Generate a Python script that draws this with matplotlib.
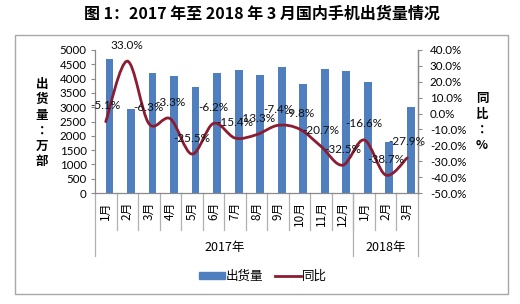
import numpy as np
import matplotlib
matplotlib.use("Agg")
import matplotlib.pyplot as plt
from matplotlib.path import Path
from matplotlib.patches import PathPatch, Rectangle, Patch
from matplotlib.lines import Line2D
import matplotlib.transforms as mtransforms
from matplotlib.ticker import FuncFormatter

plt.rcParams['font.family'] = ['Lato', 'Noto Sans CJK SC', 'DejaVu Sans']

# ---------------- data ----------------
months = ['1月', '2月', '3月', '4月', '5月', '6月', '7月', '8月', '9月', '10月',
          '11月', '12月', '1月', '2月', '3月']
years = ['2017年', '2018年']
year_spans = [(0, 11), (12, 14)]
shipments = [4700, 2950, 4200, 4100, 3720, 4200, 4300, 4130, 4420, 3810,
             4330, 4270, 3890, 1790, 3020]
yoy = [-5.1, 33.0, -6.3, -3.3, -25.5, -6.2, -15.4, -13.3, -7.4, -9.8,
       -20.7, -32.5, -16.6, -38.7, -27.9]
left_ticks = list(range(0, 5001, 500))
right_ticks = list(range(-50, 41, 10))

title = '图 1：2017 年至 2018 年 3 月国内手机出货量情况'
left_label = '出\n货\n量\n：\n万\n部'
right_label = '同\n比\n：\n%'
legend_labels = ['出货量', '同比']

bar_color = '#4F7FBF'
line_color = '#8C1C30'
spine_color = '#8A8A8A'
cjk = ['Noto Sans CJK SC', 'DejaVu Sans']
cjk_tc = ['Noto Sans CJK TC', 'DejaVu Sans']

W, H = 520, 304
fig = plt.figure(figsize=(W / 100, H / 100), dpi=100)
fig.patch.set_facecolor('white')

# outer frame
fig.patches.append(Rectangle((15 / W, 1 - 294 / H), (508 - 15) / W, (294 - 35) / H,
                             transform=fig.transFigure, fill=False,
                             ec='#A8A8A8', lw=1.0))

ax = fig.add_axes([95 / W, 1 - 193 / H, (418 - 95) / W, (193 - 50) / H])
x = np.arange(len(months))

ax.bar(x + 0.17, shipments, width=0.36, color=bar_color, zorder=2)
ax.set_xlim(-0.5, len(months) - 0.5)
ax.set_ylim(0, 5000)
ax.set_yticks(left_ticks)
ax.tick_params(axis='y', direction='out', length=3, width=0.8, color=spine_color,
               pad=3, labelsize=8.3)
ax.set_xticks(x)
ax.set_xticklabels(months, rotation=90, family=cjk, fontsize=8.5)
ax.tick_params(axis='x', length=0, pad=6)
for s in ['top']:
    ax.spines[s].set_visible(False)
for s in ['left', 'right', 'bottom']:
    ax.spines[s].set_color(spine_color)
    ax.spines[s].set_linewidth(0.9)

# category separators
trans = mtransforms.blended_transform_factory(ax.transData, ax.transAxes)
for b in np.arange(0.5, len(months) - 1, 1.0):
    ax.plot([b, b], [0, (193 - 230) / 143], transform=trans, color='#B0B0B0',
            lw=0.9, clip_on=False)
group_bounds = [-0.5] + [span[1] + 0.5 for span in year_spans]
for b in group_bounds:
    ax.plot([b, b], [0, (193 - 256) / 143], transform=trans, color='#B0B0B0',
            lw=0.9, clip_on=False)
for yl, (a, b) in zip(years, year_spans):
    ax.text((a + b) / 2, (193 - 247) / 143, yl, transform=trans, ha='center',
            va='center', family=cjk, fontsize=9)

# secondary axis with smoothed line
ax2 = ax.twinx()
ax2.set_ylim(-50, 40)
ax2.set_yticks(right_ticks)
ax2.yaxis.set_major_formatter(FuncFormatter(lambda v, p: f'{v:.1f}%'))
ax2.tick_params(axis='y', direction='out', length=3, width=0.8, color=spine_color,
                pad=5.5, labelsize=8.3)
for s in ['top', 'left', 'bottom']:
    ax2.spines[s].set_visible(False)
ax2.spines['right'].set_color(spine_color)
ax2.spines['right'].set_linewidth(0.9)

# Excel-like smoothed curve (Bezier through data points)
px = np.asarray(x, dtype=float)
py = np.asarray(yoy, dtype=float)
n = len(px)
verts = [(px[0], py[0])]
codes = [Path.MOVETO]
for i in range(n - 1):
    p0 = (px[max(i - 1, 0)], py[max(i - 1, 0)])
    p1 = (px[i], py[i])
    p2 = (px[i + 1], py[i + 1])
    p3 = (px[min(i + 2, n - 1)], py[min(i + 2, n - 1)])
    c1 = (p1[0] + (p2[0] - p0[0]) / 6, p1[1] + (p2[1] - p0[1]) / 6)
    c2 = (p2[0] - (p3[0] - p1[0]) / 6, p2[1] - (p3[1] - p1[1]) / 6)
    verts += [c1, c2, p2]
    codes += [Path.CURVE4] * 3
ax2.add_patch(PathPatch(Path(verts, codes), fill=False, ec=line_color, lw=2.0,
                        zorder=3, capstyle='round', joinstyle='round'))

for xi, v in zip(x, yoy):
    ax2.annotate(f'{v:.1f}%', (xi, v), xytext=(0, 11.5), textcoords='offset points',
                 ha='center', va='center', fontsize=8.5, color='#111111', zorder=5)

# axis titles (stacked characters)
fig.text(42 / W, 1 - 123 / H, left_label, ha='center', va='center',
         family=cjk_tc, fontsize=9, fontweight='bold', linespacing=1.25)
fig.text(482 / W, 1 - 122 / H, right_label, ha='center', va='center',
         family=cjk_tc, fontsize=9, fontweight='bold', linespacing=1.25)

# title
fig.text(262 / W, 1 - 14 / H, title, ha='center', va='center', family=cjk,
         fontsize=11.5, fontweight='bold')

# legend
handles = [Patch(color=bar_color), Line2D([], [], color=line_color, lw=2.0)]
fig.legend(handles, legend_labels, loc='center', bbox_to_anchor=(263 / W, 1 - 276 / H),
           ncol=2, frameon=False, prop={'family': cjk, 'size': 9},
           handlelength=2.1, handleheight=0.5, handletextpad=0.1, columnspacing=0.9)

fig.savefig('out.png', dpi=100, facecolor='white')
